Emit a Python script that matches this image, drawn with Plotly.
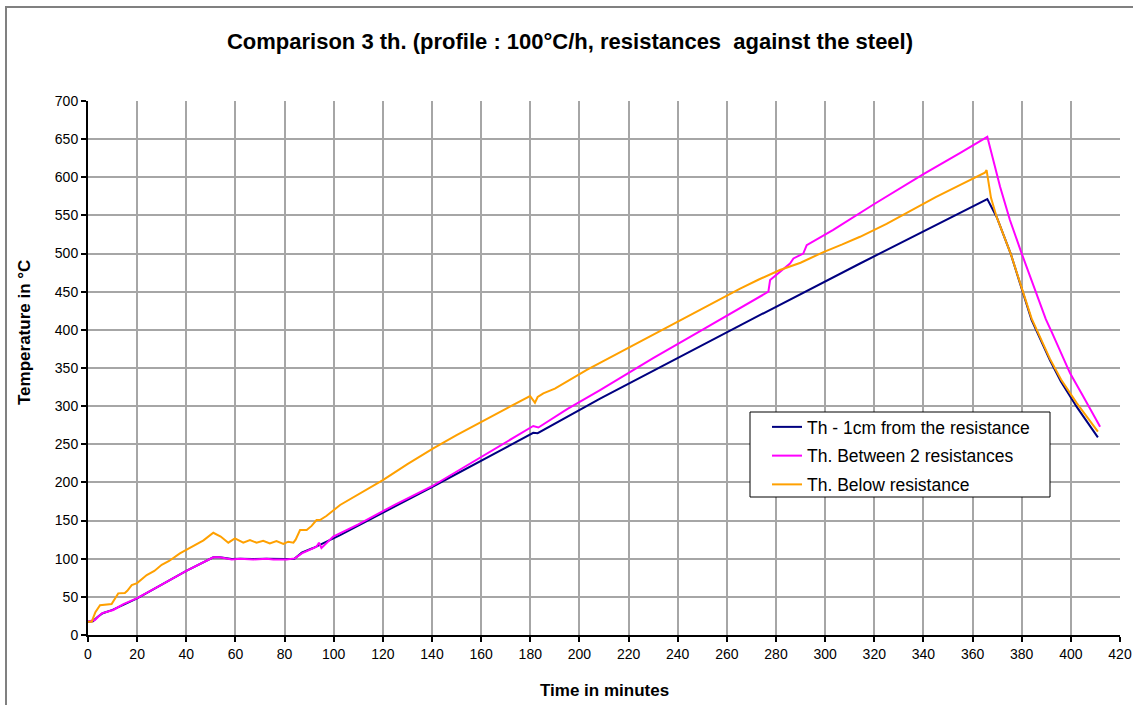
import plotly.graph_objects as go

# ---- data ----
t_navy = [0, 2, 4, 6, 10, 15, 20, 30, 40, 51, 53.7, 58.5, 62, 67, 72.7, 80, 84, 87, 91.6,
          102.6, 140, 181.2, 183, 208.4, 265.4, 314.2, 366, 369.8, 375.5, 384, 391.5, 396, 402.4, 411]
y_navy = [17.5, 18, 24, 28.5, 33, 40, 48, 66, 84, 101.8, 101.8, 99.5, 100, 99.5, 100, 99.5, 100, 108, 114,
          131, 194, 265, 264.5, 310, 406, 487, 571.5, 548, 500, 413, 360, 332, 299, 259]

t_mag = [0, 2.8, 5.6, 10.3, 14.4, 19.8, 30, 40, 51, 53.7, 58.5, 61.9, 67.3, 72.7, 75.4, 80.8, 84.2, 87,
         93, 94, 95, 99.8, 110, 125, 140, 152, 164.3, 172, 181.2, 183.3, 195, 208.4, 230, 250, 265,
         276.9, 277.6, 285.7, 287.1, 291.1, 292.5, 303.3, 320, 340, 355, 366, 371.2, 375.2, 380,
         385, 389.8, 392.5, 399.7, 405, 411.9]
y_mag = [17.5, 19.7, 28.4, 32.8, 40.6, 48, 66, 84, 101.8, 101.8, 99.1, 100, 99, 100, 99, 99, 100.4, 107,
         115.8, 121, 114, 129, 145, 171, 195, 218, 242.5, 257, 274, 272, 296, 321, 363, 400, 428,
         450, 465.3, 487, 493.6, 500, 511, 531, 565, 604, 632, 653, 587.7, 544, 500,
         455, 414, 395, 343, 313, 273]

t_or = [0, 1.5, 3, 4.9, 9.6, 10.5, 12.3, 15, 16, 17.8, 20, 23.9, 27, 30, 33, 37.4, 41, 44, 47, 51,
        54, 57.1, 59.8, 63.2, 65.9, 68.6, 71.3, 74, 76.7, 79.5, 81.5, 83.6, 84.5, 86.3, 89, 91, 93,
        94.4, 97, 102.6, 110, 120, 130, 140.5, 150, 160, 170, 176, 179.9, 181.9, 183, 185.3, 190,
        203, 215, 230, 245, 255, 265.4, 273, 281.6, 290, 299.3, 307, 314.2, 325, 335, 345, 355,
        361, 365, 365.7, 367.5, 369.8, 375.5, 380, 384, 391.5, 396, 402.4, 411]
y_or = [17.5, 17.5, 30, 39, 40.6, 45, 54.6, 55, 58, 65.5, 68, 78.6, 84, 92, 97, 107, 113, 119, 124, 134,
        129, 121, 126.6, 121, 124.5, 121, 123.5, 120, 123, 119.3, 122.3, 121, 125, 137.6, 137.6, 143, 150.7,
        150.7, 156, 170.4, 184, 203, 224, 244.7, 262, 279, 296, 306, 313.3, 304.5, 312, 316.8, 323,
        347.4, 368, 393, 419, 436, 454, 466, 478.4, 488, 502, 512, 522, 539, 557, 574, 590,
        600, 606, 609.5, 573, 548, 500, 455, 415, 362, 335, 304, 266.5]

names = ["Th - 1cm from the resistance", "Th. Between 2 resistances", "Th. Below resistance"]
colors = ["#000080", "#ff00ff", "#ffa000"]

x_ticks = list(range(0, 421, 20))
y_ticks = list(range(0, 701, 50))

FONT = "Arial, 'Liberation Sans', sans-serif"

# plot area in pixels
L, R, T, B = 88, 1120, 101, 635
PW, PH = R - L, B - T


def px(xp):
    return (xp - L) / PW


def py(yp):
    return (B - yp) / PH


fig = go.Figure()
for i, (tx, ty) in enumerate([(t_navy, y_navy), (t_mag, y_mag), (t_or, y_or)]):
    fig.add_trace(go.Scatter(x=tx, y=ty, mode="lines", name=names[i],
                             legendgroup=f"g{i}",
                             line=dict(color=colors[i], width=2)))

fig.update_layout(
    width=1133, height=705,
    margin=dict(l=L, r=1133 - R, t=T, b=705 - B, autoexpand=False),
    paper_bgcolor="white", plot_bgcolor="white",
    font=dict(family=FONT, color="black", size=14),
    title=dict(text="<b>Comparison 3 th. (profile : 100°C/h, resistances  against the steel)</b>",
               x=570 / 1133, xanchor="center", y=1 - 41 / 705, yanchor="middle",
               font=dict(size=22, family=FONT, color="black")),
    showlegend=True,
    legend=dict(x=px(767), y=py(409), xanchor="left", yanchor="top",
                bgcolor="rgba(0,0,0,0)", borderwidth=0,
                font=dict(size=17.5, family=FONT, color="black"),
                tracegroupgap=3, itemwidth=30),
    xaxis=dict(range=[0, 420], tickvals=x_ticks, ticktext=[str(v) for v in x_ticks],
               showgrid=True, gridcolor="#a6a6a6", gridwidth=1.5,
               showline=True, linecolor="black", linewidth=2,
               ticks="outside", ticklen=5, tickwidth=2, tickcolor="black",
               zeroline=False, tickfont=dict(size=14), automargin=False),
    yaxis=dict(range=[0, 700], tickvals=y_ticks, ticktext=[str(v) for v in y_ticks],
               showgrid=True, gridcolor="#a6a6a6", gridwidth=1.5,
               showline=True, linecolor="black", linewidth=2,
               ticks="outside", ticklen=5, tickwidth=2, tickcolor="black",
               zeroline=False, tickfont=dict(size=14), automargin=False),
    annotations=[
        dict(text="<b>Time in minutes</b>", xref="paper", yref="paper",
             x=px(604), y=py(690), xanchor="center", yanchor="middle",
             showarrow=False, font=dict(size=17, family=FONT, color="black")),
        dict(text="<b>Temperature in °C</b>", xref="paper", yref="paper",
             x=px(24), y=py(333), xanchor="center", yanchor="middle", textangle=-90,
             showarrow=False, font=dict(size=17, family=FONT, color="black")),
    ],
    shapes=[
        dict(type="rect", xref="paper", yref="paper",
             x0=px(6), x1=px(1145), y0=py(715), y1=py(7),
             line=dict(color="#808080", width=2), fillcolor="rgba(0,0,0,0)", layer="below"),
        dict(type="rect", xref="paper", yref="paper",
             x0=px(750), x1=px(1050), y0=py(497), y1=py(412),
             line=dict(color="black", width=1), fillcolor="white", layer="above"),
    ],
)

fig.write_html("out.html", config={"displayModeBar": False},
               post_script="document.body.style.margin='0px';")
